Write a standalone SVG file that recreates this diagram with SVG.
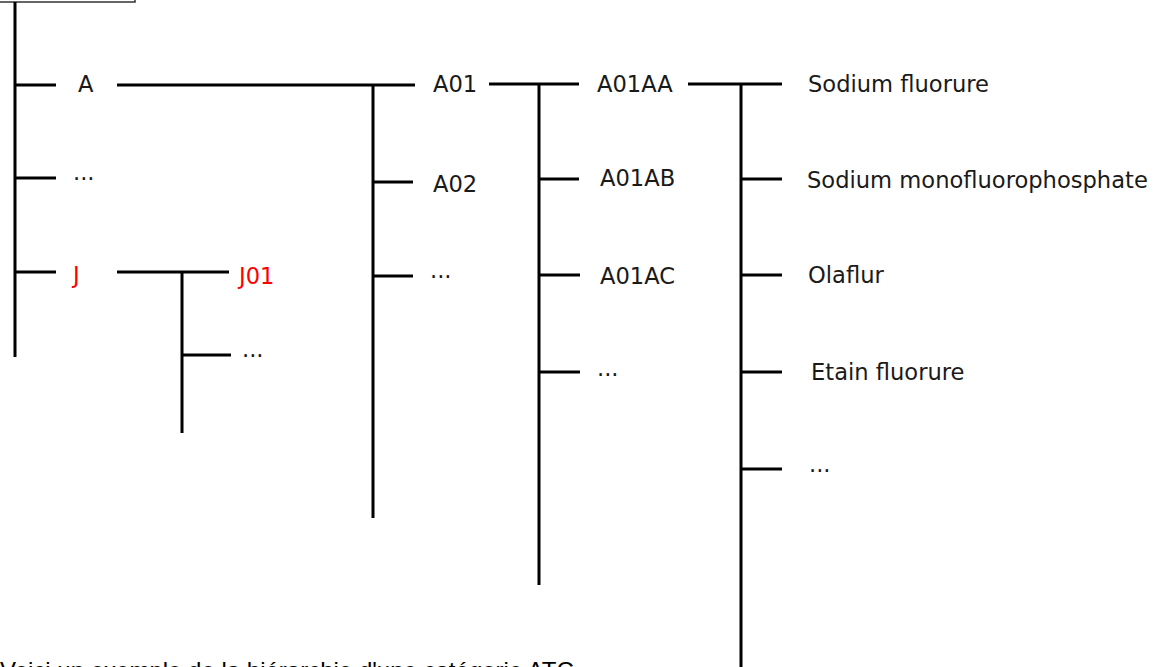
<svg xmlns="http://www.w3.org/2000/svg" width="1155" height="667" viewBox="0 0 1155 667">
<style>
.ln{stroke:#000;stroke-width:3;fill:none;stroke-linecap:butt}
.t{font-family:"DejaVu Sans",Verdana,sans-serif;font-size:22.6px;fill:#1a1a1a}
.r{fill:#ff0000}
.cap{font-family:"Liberation Sans",Arial,sans-serif;font-size:24px;fill:#000}
</style>
<rect width="1155" height="667" fill="#fff"/>
<g id="topbox"><rect x="-10" y="-40" width="145" height="42" fill="none" stroke="#333" stroke-width="1.5"/></g>
<g id="connectors">
<path class="ln" d="M15,2 V357"/>
<path class="ln" d="M15,85 H56 M15,178 H56 M15,272 H56"/>
<path class="ln" d="M117,85 H415 M373,85 V518 M373,182 H413 M373,276 H413"/>
<path class="ln" d="M117,272 H229 M182,272 V433 M182,355 H231"/>
<path class="ln" d="M489,84 H579 M539,84 V585 M539,179 H579 M539,275 H580 M539,372 H580"/>
<path class="ln" d="M688,84 H782 M741,84 V667 M741,179 H782 M741,275 H782 M741,372 H782 M741,469 H782"/>
</g>
<g id="n-A"><text class="t" x="78" y="92">A</text></g>
<g id="n-dots1"><text class="t" x="73" y="180">...</text></g>
<g id="n-J"><text class="t r" x="73" y="283">J</text></g>
<g id="n-J01"><text class="t r" x="239" y="284">J01</text></g>
<g id="n-Jdots"><text class="t" x="242" y="357">...</text></g>
<g id="n-A01"><text class="t" x="433" y="92">A01</text></g>
<g id="n-A02"><text class="t" x="433" y="192">A02</text></g>
<g id="n-Adots"><text class="t" x="430" y="278">...</text></g>
<g id="n-A01AA"><text class="t" x="597" y="92">A01AA</text></g>
<g id="n-A01AB"><text class="t" x="600" y="186">A01AB</text></g>
<g id="n-A01AC"><text class="t" x="600" y="284">A01AC</text></g>
<g id="n-A01dots"><text class="t" x="597" y="376">...</text></g>
<g id="n-sf"><text class="t" x="808" y="92">Sodium fluorure</text></g>
<g id="n-smfp"><text class="t" x="807" y="188">Sodium monofluorophosphate</text></g>
<g id="n-ola"><text class="t" x="808" y="283">Olaflur</text></g>
<g id="n-etain"><text class="t" x="811" y="380">Etain fluorure</text></g>
<g id="n-dots5"><text class="t" x="809" y="472">...</text></g>
<text class="cap" x="0" y="679">Voici un exemple de la hiérarchie d'une catégorie ATC</text>
</svg>
